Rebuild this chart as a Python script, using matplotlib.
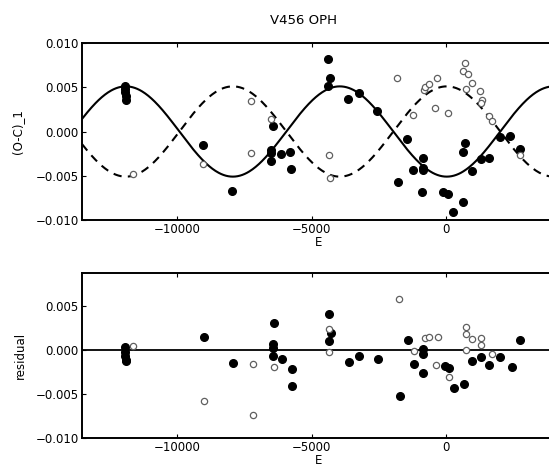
import numpy as np
import matplotlib
matplotlib.use("Agg")
import matplotlib.pyplot as plt

# epochs and O-C of the primary (filled) and secondary (open) minima
E_prim = [-11950, -11930, -11920, -11910, -11900, -9030, -7950,
          -6430, -6500, -6500, -6500, -6130, -5800, -5780,
          -4370, -4310, -4370, -3630, -3230, -2580,
          -1440, -1770, -1220, -870, -870, -840, -880,
          -100, 90, 250, 620, 710, 620, 980, 1300, 1610,
          2010, 2380, 2730]
oc_prim = [0.0051, 0.0048, 0.0045, 0.0040, 0.0036, -0.0015, -0.0067,
           0.0006, -0.0021, -0.0024, -0.0033, -0.0025, -0.0023, -0.0042,
           0.0082, 0.0061, 0.0051, 0.0037, 0.0044, 0.0023,
           -0.0009, -0.0057, -0.0043, -0.0041, -0.0044, -0.0030, -0.0068,
           -0.0068, -0.0071, -0.0091, -0.0080, -0.0013, -0.0023, -0.0045, -0.0031, -0.0030,
           -0.0006, -0.0005, -0.0020]

E_sec = [-11640, -9020, -7250, -7250, -6500, -4350, -4310, -1810, -1240,
         -810, -780, -620, -350, -410, 90,
         710, 620, 810, 960, 740, 1260, 1330, 1290, 1610, 1700, 2730]
oc_sec = [-0.0048, -0.0037, 0.0034, -0.0024, 0.0014, -0.0026, -0.0052, 0.0061, 0.0019,
          0.0047, 0.0050, 0.0054, 0.0060, 0.0027, 0.0021,
          0.0077, 0.0068, 0.0065, 0.0055, 0.0048, 0.0046, 0.0036, 0.0032, 0.0017, 0.0012, -0.0026]

# residuals after removing the light-time term
E_res_prim = [-11950, -11930, -11920, -11910, -11900, -9010, -7920,
              -6410, -6450, -6450, -6440, -6100, -5740, -5730,
              -4360, -4280, -4340, -3620, -3220, -2530,
              -1710, -1400, -1180, -840, -840, -870,
              -40, 120, 300, 670, 980, 1310, 1600, 2010, 2440, 2730]
res_prim = [0.00035, -0.00025, -0.0007, -0.0012, -0.0013, 0.0015, -0.0015,
            0.0030, 0.00065, 0.0002, -0.0007, -0.0011, -0.0022, -0.0041,
            0.0040, 0.0019, 0.0010, -0.0014, -0.0007, -0.0010,
            -0.0052, 0.0011, -0.0016, 0.0001, -0.0005, -0.0026,
            -0.0018, -0.0021, -0.0043, -0.0039, -0.0013, -0.0008, -0.0017, -0.0008, -0.0020, 0.0011]

E_res_sec = [-11640, -8990, -7180, -7180, -6410, -4340, -4340,
             -1750, -1180, -780, -620, -290, -380,
             110, 730, 730, 730, 980, 1310, 1310, 1700]
res_sec = [0.0004, -0.0058, -0.0016, -0.0074, -0.0020, 0.0023, -0.0003,
           0.0057, -0.0001, 0.0013, 0.0014, 0.0015, -0.0017,
           -0.0031, 0.0026, 0.0018, 0.0000, 0.0012, 0.0013, 0.0005, -0.0005]

# light-time orbit: semi-amplitude (d), period (cycles), epoch of maximum
lt_amp = 0.0051
lt_period = 7950
lt_emax = -11900

# the right edge runs a little past the figure
xlim = (-13530, 4050)

E_fit = np.linspace(xlim[0], xlim[1], 600)
lt_prim = lt_amp * np.cos(2 * np.pi * (E_fit - lt_emax) / lt_period)
lt_sec = -lt_prim

fig = plt.figure(figsize=(5.49, 4.66), dpi=100)
ax1 = fig.add_axes([0.1494, 0.5279, 0.8616, 0.3798])
ax2 = fig.add_axes([0.1494, 0.0601, 0.8616, 0.3540])

ax1.plot(E_fit, lt_prim, color="black", lw=1.5)
ax1.plot(E_fit, lt_sec, color="black", lw=1.5, linestyle=(0, (4, 3)))
ax1.plot(E_prim, oc_prim, "o", color="black", ms=5.5)
ax1.plot(E_sec, oc_sec, "o", mfc="white", mec="#606060", mew=0.9, ms=4.5)
ax1.set_xlim(*xlim)
ax1.set_ylim(-0.010, 0.010)
ax1.set_yticks([-0.010, -0.005, 0.0, 0.005, 0.010])
ax1.set_ylabel("(O-C)_1", fontsize=8.5, labelpad=8)
ax1.set_xlabel("E", fontsize=8.5, labelpad=0)

ax2.axhline(0, color="black", lw=1.3)
ax2.plot(E_res_prim, res_prim, "o", color="black", ms=5.5)
ax2.plot(E_res_sec, res_sec, "o", mfc="white", mec="#606060", mew=0.9, ms=4.5)
ax2.set_xlim(*xlim)
ax2.set_ylim(-0.010, 0.0087)
ax2.set_yticks([-0.010, -0.005, 0.0, 0.005])
ax2.set_ylabel("residual", fontsize=8.5, labelpad=6)
ax2.set_xlabel("E", fontsize=8.5, labelpad=0)

for ax in (ax1, ax2):
    ax.set_xticks([-10000, -5000, 0])
    ax.tick_params(direction="in", length=3, width=0.8, labelsize=8.5,
                   top=True, right=True, pad=2.5)
    for s in ax.spines.values():
        s.set_linewidth(1.4)

fig.text(0.552, 0.957, "V456 OPH", ha="center", va="center", fontsize=9.5)

fig.savefig("out.png", dpi=100)
